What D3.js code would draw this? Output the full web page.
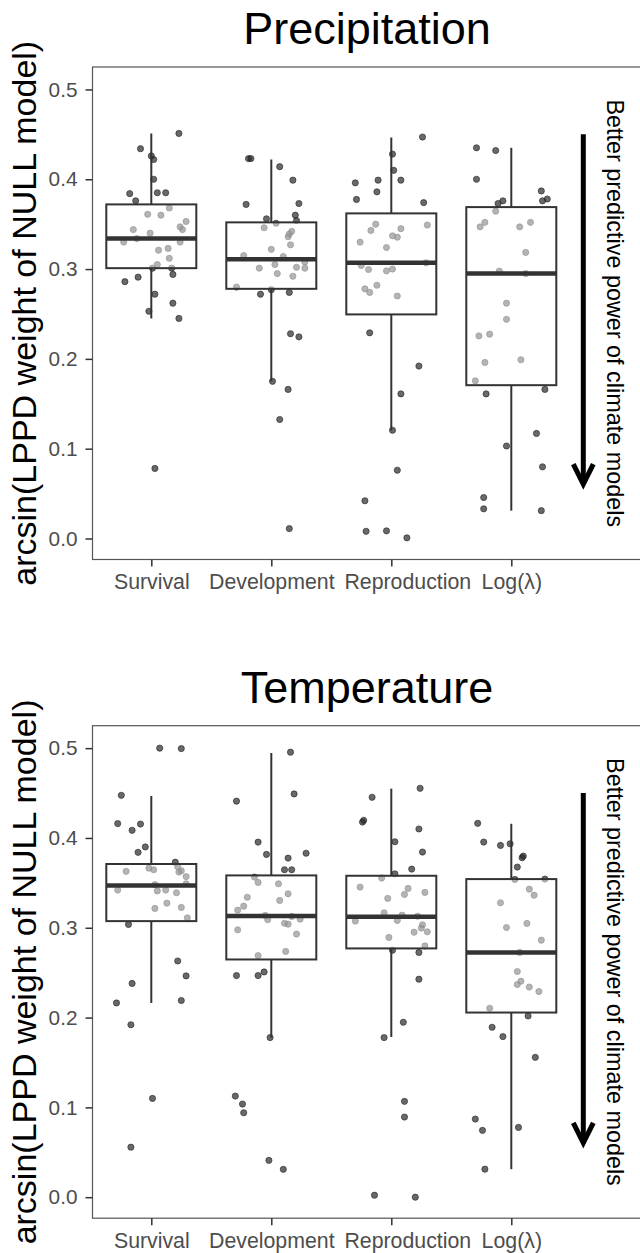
<!DOCTYPE html>
<html>
<head>
<meta charset="utf-8">
<script src="https://cdn.jsdelivr.net/npm/d3@7"></script>
<style>
  body { margin: 0; background: #fff; }
  svg { display: block; font-family: "Liberation Sans", Arial, sans-serif; }
</style>
</head>
<body>
<svg id="chart"></svg>
<script>
const width = 640;
const height = 1253;

// categories on the x axis and y tick values
const categories = ["Survival", "Development", "Reproduction", "Log(λ)"];
const yTicks = [0, 0.1, 0.2, 0.3, 0.4, 0.5];

// jittered points: [value, horizontal jitter in category units]
const precipSurvival = [
  [0.451, 0.23], [0.434, -0.09], [0.426, 0.00], [0.422, 0.02], [0.400, 0.02], [0.384, -0.18],
  [0.376, -0.13], [0.385, 0.05], [0.385, 0.12], [0.368, 0.15], [0.361, -0.03], [0.360, 0.08],
  [0.353, 0.29], [0.347, 0.24], [0.344, 0.26], [0.344, -0.15], [0.340, -0.01], [0.334, -0.12],
  [0.330, -0.23], [0.330, 0.24], [0.321, 0.06], [0.323, 0.14], [0.312, 0.15], [0.305, 0.05],
  [0.301, 0.01], [0.301, 0.17], [0.294, 0.18], [0.286, -0.22], [0.291, -0.11], [0.272, 0.03],
  [0.262, 0.18], [0.253, -0.02], [0.245, 0.23], [0.078, 0.03]
];
const precipDevelopment = [
  [0.423, -0.19], [0.423, -0.17], [0.414, 0.07], [0.399, 0.18], [0.372, -0.21], [0.373, 0.23],
  [0.360, 0.20], [0.354, 0.21], [0.356, -0.04], [0.351, 0.04], [0.346, -0.06], [0.342, 0.17],
  [0.339, 0.15], [0.336, 0.14], [0.327, 0.16], [0.322, 0.00], [0.315, -0.23], [0.314, 0.10],
  [0.308, 0.28], [0.301, 0.28], [0.302, 0.21], [0.305, 0.03], [0.301, -0.10], [0.295, 0.05],
  [0.292, 0.18], [0.280, -0.29], [0.277, 0.00], [0.272, -0.09], [0.274, 0.15], [0.228, 0.16],
  [0.2245, 0.23], [0.175, 0.01], [0.166, 0.14], [0.1325, 0.07], [0.011, 0.15]
];
const precipReproduction = [
  [0.447, 0.26], [0.428, 0.01], [0.410, 0.02], [0.396, -0.30], [0.399, -0.11], [0.399, 0.08],
  [0.386, -0.12], [0.3775, -0.29], [0.374, 0.27], [0.350, -0.13], [0.343, -0.17], [0.345, 0.08],
  [0.349, 0.30], [0.337, 0.01], [0.3355, 0.05], [0.330, -0.26], [0.324, -0.04], [0.307, 0.29],
  [0.304, -0.25], [0.2995, -0.19], [0.298, -0.04], [0.300, 0.01], [0.282, -0.12], [0.278, -0.22],
  [0.274, -0.18], [0.270, 0.05], [0.229, -0.18], [0.192, 0.23], [0.161, 0.08], [0.1205, 0.01],
  [0.076, 0.05], [0.042, -0.22], [0.008, -0.21], [0.0085, -0.04], [0.0007, 0.13]
];
const precipLog = [
  [0.435, -0.29], [0.432, -0.13], [0.400, -0.29], [0.387, 0.25], [0.376, 0.26], [0.378, 0.30],
  [0.373, -0.11], [0.376, -0.07], [0.3645, -0.13], [0.352, -0.22], [0.347, -0.26], [0.347, 0.07],
  [0.352, 0.16], [0.3185, 0.12], [0.2977, -0.10], [0.295, 0.12], [0.262, -0.04], [0.244, -0.04],
  [0.2256, -0.27], [0.2275, -0.18], [0.196, -0.22], [0.199, 0.08], [0.1755, -0.30], [0.161, -0.21],
  [0.166, 0.28], [0.117, 0.21], [0.103, -0.04], [0.0798, 0.26], [0.0456, -0.23], [0.033, -0.23],
  [0.031, 0.25]
];

const tempSurvival = [
  [0.500, 0.07], [0.4995, 0.25], [0.4475, -0.25], [0.416, -0.28], [0.4155, -0.09], [0.4085, -0.16],
  [0.390, -0.05], [0.384, -0.11], [0.373, 0.20], [0.368, 0.22], [0.3635, 0.25], [0.362, 0.23],
  [0.3628, -0.21], [0.3664, -0.02], [0.3646, 0.02], [0.357, 0.29], [0.349, 0.29], [0.348, 0.03],
  [0.342, -0.28], [0.341, 0.05], [0.342, 0.12], [0.339, 0.21], [0.3274, 0.13], [0.3215, 0.03],
  [0.3226, 0.25], [0.311, 0.30], [0.3037, -0.19], [0.263, 0.22], [0.2464, 0.29], [0.238, -0.16],
  [0.2163, -0.29], [0.219, 0.25], [0.192, -0.17], [0.110, 0.01], [0.0557, -0.17]
];
const tempDevelopment = [
  [0.4955, 0.16], [0.449, 0.19], [0.441, -0.29], [0.3954, -0.11], [0.3817, -0.04], [0.3776, 0.14],
  [0.383, 0.29], [0.3646, 0.11], [0.3646, 0.17], [0.3564, -0.14], [0.3505, -0.11], [0.349, 0.06],
  [0.3378, 0.14], [0.334, -0.20], [0.3304, 0.07], [0.324, -0.23], [0.3196, -0.28], [0.3137, -0.05],
  [0.309, -0.03], [0.3126, 0.17], [0.3096, 0.24], [0.305, 0.11], [0.304, 0.14], [0.2977, -0.28],
  [0.293, 0.21], [0.269, -0.11], [0.2736, 0.12], [0.2468, -0.29], [0.2468, -0.11], [0.2508, -0.06],
  [0.1777, -0.01], [0.1126, -0.30], [0.1037, -0.24], [0.094, -0.23], [0.041, -0.02], [0.031, 0.10]
];
const tempReproduction = [
  [0.4553, 0.24], [0.4453, -0.16], [0.4177, -0.24], [0.4196, -0.23], [0.410, 0.23], [0.3958, 0.03],
  [0.3843, 0.26], [0.3653, 0.17], [0.360, 0.03], [0.3553, -0.08], [0.3453, -0.26], [0.3438, 0.14],
  [0.3371, 0.11], [0.3394, 0.28], [0.3327, -0.03], [0.3166, -0.06], [0.314, 0.09], [0.3129, 0.22],
  [0.3074, -0.30], [0.3081, 0.05], [0.3033, 0.26], [0.2996, 0.25], [0.2955, 0.30], [0.2951, 0.19],
  [0.2892, -0.02], [0.2798, 0.28], [0.275, 0.01], [0.2725, 0.23], [0.2427, 0.23], [0.1948, 0.10],
  [0.1777, -0.06], [0.1067, 0.11], [0.0892, 0.11], [0.0022, -0.14], [0.000, 0.20]
];
const tempLog = [
  [0.4163, -0.28], [0.3954, -0.23], [0.3917, -0.09], [0.3935, -0.01], [0.378, 0.09], [0.3798, 0.10],
  [0.3676, 0.05], [0.3538, 0.03], [0.3542, 0.28], [0.343, 0.15], [0.3363, 0.19], [0.3278, -0.09],
  [0.3048, 0.13], [0.3003, -0.04], [0.2862, 0.25], [0.2725, 0.07], [0.2513, 0.05], [0.2405, 0.08],
  [0.2368, 0.05], [0.234, 0.15], [0.229, 0.23], [0.2104, -0.18], [0.2018, 0.14], [0.1892, -0.16],
  [0.1788, -0.07], [0.1557, 0.20], [0.087, -0.30], [0.0744, -0.24], [0.0777, 0.06], [0.0312, -0.22]
];

// box statistics per category: [lower whisker, q1, median, q3, upper whisker]
const precipBoxes = [
  [0.245, 0.301, 0.334, 0.372, 0.451],
  [0.175, 0.278, 0.311, 0.352, 0.422],
  [0.1205, 0.2495, 0.307, 0.362, 0.4465],
  [0.031, 0.1707, 0.295, 0.369, 0.435]
];
const tempBoxes = [
  [0.2163, 0.3074, 0.347, 0.371, 0.4467],
  [0.1777, 0.2647, 0.313, 0.3583, 0.4946],
  [0.1784, 0.277, 0.3122, 0.3579, 0.4549],
  [0.0312, 0.2056, 0.2725, 0.3542, 0.4158]
];

// annotation arrow (x position in category units, y from / to)
const arrowX = 4.6;
const arrowSpan = [0.45, 0.055];
const noteX = 4.8;
const noteText = "Better predictive power of climate models";
const yTitle = "arcsin(LPPD weight of NULL model)";

const panels = [
  { title: "Precipitation", top: 67, points: [precipSurvival, precipDevelopment, precipReproduction, precipLog], boxes: precipBoxes },
  { title: "Temperature", top: 725.7, points: [tempSurvival, tempDevelopment, tempReproduction, tempLog], boxes: tempBoxes }
];

const panelLeft = 92.5;
const panelH = 492.5;
const boxWidth = 0.75;
const labelShift = [0, 0, 16, 0]; // the "Reproduction" label sits right of its tick in the original

const svg = d3.select("#chart")
  .attr("width", width)
  .attr("height", height)
  .attr("viewBox", `0 0 ${width} ${height}`);

const x = d3.scaleLinear().domain([1, 4]).range([151.3, 511.3]);
const y = d3.scaleLinear().domain([-0.0234, 0.525]).range([panelH, 0]);

panels.forEach((p) => {
  const g = svg.append("g").attr("transform", `translate(0,${p.top})`);

  // jittered points first, so the half-transparent boxes wash them out
  p.points.forEach((pts, i) => {
    g.append("g")
      .selectAll("circle")
      .data(pts)
      .join("circle")
      .attr("cx", (d) => x(i + 1 + d[1]))
      .attr("cy", (d) => y(d[0]))
      .attr("r", 3.1)
      .attr("fill", "#222")
      .attr("fill-opacity", 0.68)
      .attr("stroke", "#222")
      .attr("stroke-opacity", 0.68)
      .attr("stroke-width", 0.9);
  });

  // boxplots
  const bw = x(1 + boxWidth) - x(1);
  const box = g.append("g")
    .selectAll("g")
    .data(p.boxes)
    .join("g");

  box.append("line")
    .attr("x1", (d, i) => x(i + 1)).attr("x2", (d, i) => x(i + 1))
    .attr("y1", (d) => y(d[0])).attr("y2", (d) => y(d[1]))
    .attr("stroke", "#333").attr("stroke-width", 2);
  box.append("line")
    .attr("x1", (d, i) => x(i + 1)).attr("x2", (d, i) => x(i + 1))
    .attr("y1", (d) => y(d[3])).attr("y2", (d) => y(d[4]))
    .attr("stroke", "#333").attr("stroke-width", 2);
  box.append("rect")
    .attr("x", (d, i) => x(i + 1) - bw / 2)
    .attr("width", bw)
    .attr("y", (d) => y(d[3]))
    .attr("height", (d) => y(d[1]) - y(d[3]))
    .attr("fill", "#fff")
    .attr("fill-opacity", 0.5)
    .attr("stroke", "#333")
    .attr("stroke-width", 2);
  box.append("line")
    .attr("x1", (d, i) => x(i + 1) - bw / 2).attr("x2", (d, i) => x(i + 1) + bw / 2)
    .attr("y1", (d) => y(d[2])).attr("y2", (d) => y(d[2]))
    .attr("stroke", "#333").attr("stroke-width", 4.5);

  // arrow annotation
  const ax = x(arrowX);
  const tipY = y(arrowSpan[1]) - 5;
  g.append("line")
    .attr("x1", ax).attr("x2", ax)
    .attr("y1", y(arrowSpan[0])).attr("y2", tipY)
    .attr("stroke", "#000").attr("stroke-width", 5);
  g.append("path")
    .attr("d", `M${ax - 10},${tipY - 20}L${ax},${tipY}L${ax + 10},${tipY - 20}`)
    .attr("fill", "none")
    .attr("stroke", "#000")
    .attr("stroke-width", 5)
    .attr("stroke-linejoin", "miter");

  g.append("text")
    .attr("transform", `translate(${x(noteX)},${panelH / 2}) rotate(90)`)
    .attr("text-anchor", "middle")
    .attr("font-size", 23.4)
    .attr("fill", "#000")
    .text(noteText);

  // panel border
  g.append("rect")
    .attr("x", panelLeft)
    .attr("y", 0)
    .attr("width", width)
    .attr("height", panelH)
    .attr("fill", "none")
    .attr("stroke", "#555")
    .attr("stroke-width", 1.2);

  // y axis
  const yAxisG = g.append("g")
    .attr("transform", `translate(${panelLeft},0)`)
    .call(d3.axisLeft(y).tickValues(yTicks).tickFormat(d3.format(".1f")).tickSize(7).tickPadding(8));
  yAxisG.select(".domain").remove();
  yAxisG.selectAll(".tick line").attr("stroke", "#333").attr("stroke-width", 1.5);
  yAxisG.selectAll(".tick text")
    .attr("fill", "#4d4d4d")
    .attr("font-size", 20.8)
    .attr("font-family", "Liberation Sans, Arial, sans-serif");

  // x axis
  const xAxisG = g.append("g")
    .attr("transform", `translate(0,${panelH})`)
    .call(d3.axisBottom(x).tickValues([1, 2, 3, 4]).tickFormat((d) => categories[d - 1]).tickSize(7).tickPadding(7.5));
  xAxisG.select(".domain").remove();
  xAxisG.selectAll(".tick line").attr("stroke", "#333").attr("stroke-width", 1.5);
  xAxisG.selectAll(".tick text")
    .attr("fill", "#4d4d4d")
    .attr("font-size", 21.3)
    .attr("dx", (d) => labelShift[d - 1])
    .attr("font-family", "Liberation Sans, Arial, sans-serif");

  // titles
  g.append("text")
    .attr("x", 367)
    .attr("y", -22.7)
    .attr("text-anchor", "middle")
    .attr("font-size", 45)
    .attr("fill", "#000")
    .text(p.title);

  g.append("text")
    .attr("transform", `translate(36,${panelH / 2}) rotate(-90)`)
    .attr("text-anchor", "middle")
    .attr("font-size", 34)
    .attr("fill", "#000")
    .text(yTitle);
});
</script>
</body>
</html>
